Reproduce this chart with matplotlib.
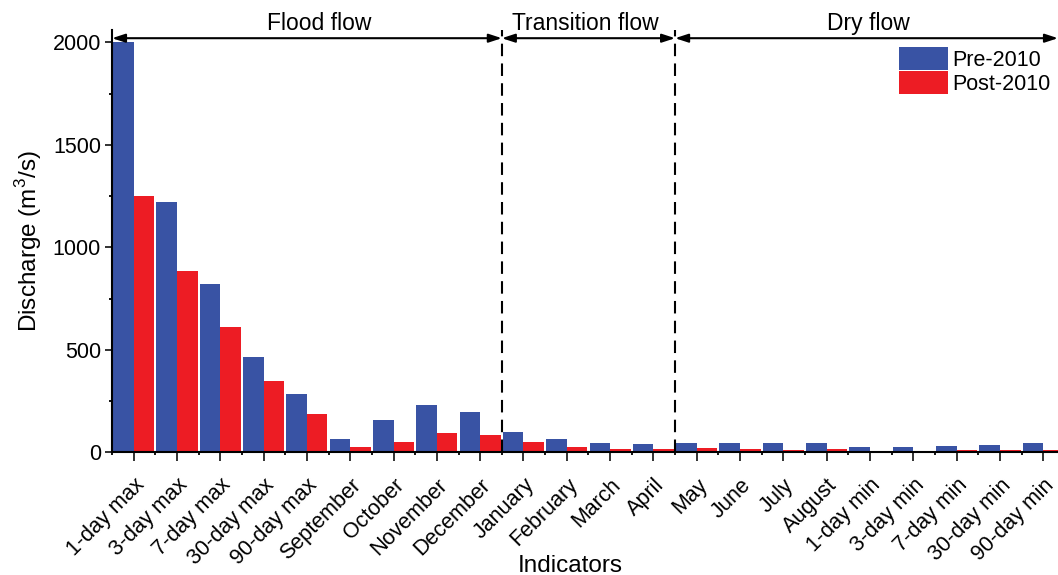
import matplotlib
matplotlib.use('Agg')
import matplotlib.pyplot as plt
import matplotlib.transforms as mtransforms
from matplotlib.ticker import MultipleLocator, FixedLocator
import numpy as np

plt.rcParams['font.family'] = ['Liberation Sans', 'DejaVu Sans']
plt.rcParams['mathtext.fontset'] = 'custom'
plt.rcParams['mathtext.rm'] = 'Liberation Sans'

# Data
indicators = ['1-day max', '3-day max', '7-day max', '30-day max', '90-day max',
              'September', 'October', 'November', 'December',
              'January', 'February', 'March', 'April',
              'May', 'June', 'July', 'August',
              '1-day min', '3-day min', '7-day min', '30-day min', '90-day min']
pre_2010 = [2000, 1222, 819, 466, 286, 66, 158, 229, 195,
            99, 63, 47, 40, 44, 44, 44, 47, 26, 28, 29, 36, 44]
post_2010 = [1250, 884, 613, 348, 188, 26, 52, 93, 84,
             52, 26, 15, 18, 22, 15, 13, 15, 6, 6, 10, 10, 13]
periods = ['Flood flow', 'Transition flow', 'Dry flow']
period_bounds = [-0.5, 8.5, 12.5, 21.34]

blue = '#3953A4'
red = '#ED1C24'

fig = plt.figure(figsize=(10.58, 5.75), dpi=100)
ax = fig.add_axes([112 / 1058, 1 - 452.3 / 575, 1 - 112 / 1058, (452.3 - 30) / 575])

x = np.arange(len(indicators))
w = 0.475
ax.bar(x - w / 2, pre_2010, w, color=blue, label='Pre-2010')
ax.bar(x + w / 2, post_2010, w, color=red, label='Post-2010')

ax.set_xlim(period_bounds[0], period_bounds[-1])
ax.set_ylim(0, 2060)

for s in ['top', 'right']:
    ax.spines[s].set_visible(False)
for s in ['left', 'bottom']:
    ax.spines[s].set_linewidth(1.5)

ax.set_xticks(x)
ax.set_xticklabels(indicators, rotation=45, ha='right', rotation_mode='anchor')
# nudge rotated labels a little to the right
shift = mtransforms.ScaledTranslation(0.05, 0, fig.dpi_scale_trans)
for lab in ax.get_xticklabels():
    lab.set_transform(lab.get_transform() + shift)
ax.xaxis.set_minor_locator(FixedLocator(x - 0.5))
ax.yaxis.set_major_locator(MultipleLocator(500))
ax.yaxis.set_minor_locator(MultipleLocator(250))
ax.tick_params(axis='both', which='major', labelsize=15.5, width=1.3, color='#222222')
ax.tick_params(axis='x', which='major', length=6.5, pad=9.5)
ax.tick_params(axis='y', which='major', length=5, pad=3)
ax.tick_params(axis='both', which='minor', length=2.5, width=1.3)

ax.set_ylabel('Discharge (m$^3$/s)', fontsize=17.5, labelpad=6)
ax.set_xlabel('Indicators', fontsize=17.5)
ax.xaxis.set_label_coords(0.484, -0.243)

# period separators and arrows
for b in period_bounds[1:-1]:
    ax.axvline(b, color='black', lw=1.5, linestyle=(0, (6, 3.5)), clip_on=False)

label_shift = [0.28, -0.08, 0.05]
for i, name in enumerate(periods):
    x0, x1 = period_bounds[i], period_bounds[i + 1]
    ax.annotate('', xy=(x1, 2020), xytext=(x0, 2020),
                arrowprops=dict(arrowstyle='<|-|>,head_length=0.55,head_width=0.18',
                                color='black', lw=1.5, shrinkA=0, shrinkB=0,
                                mutation_scale=14),
                annotation_clip=False)
    ax.text((x0 + x1) / 2 + label_shift[i], 2058, name, ha='center', va='baseline',
            fontsize=16.5, clip_on=False)

ax.legend(loc='upper left', bbox_to_anchor=(899 / 1058, 1 - 46.7 / 575),
          bbox_transform=fig.transFigure, frameon=False, fontsize=15.5,
          handlelength=2.28, handleheight=1.3, handletextpad=0.2,
          labelspacing=0, borderpad=0, borderaxespad=0)

plt.savefig('out.png', dpi=100)
